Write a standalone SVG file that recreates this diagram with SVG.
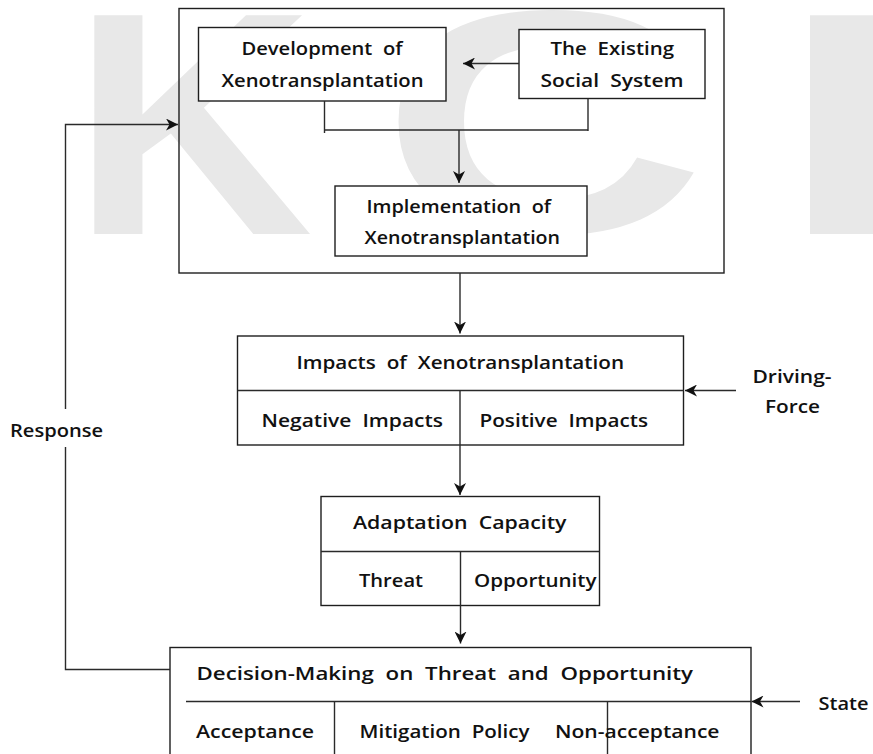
<svg xmlns="http://www.w3.org/2000/svg" width="873" height="754" viewBox="0 0 873 754">
<defs>
<style>
.wm{font-family:"Liberation Sans",Arial,sans-serif;font-weight:bold;font-size:318px;fill:#e8e8e8}
.box{fill:#fff;stroke:#1e1e1e;stroke-width:1.4}
.frame{fill:none;stroke:#1e1e1e;stroke-width:1.4}
.ln{fill:none;stroke:#2a2a2a;stroke-width:1.4}
.lbl{font-family:"Open Sans","Liberation Sans",sans-serif;font-weight:600;font-size:18.5px;word-spacing:5px;fill:#111}
</style>
<marker id="ah" viewBox="0 0 12 12" refX="12" refY="6" markerWidth="12" markerHeight="12" markerUnits="userSpaceOnUse" orient="auto">
<path d="M0,0 L12,6 L0,12 L3.5,6 Z" fill="#111"/>
</marker>
</defs>
<rect width="873" height="754" fill="#fff"/>
<g id="watermark">
<text class="wm" transform="translate(72,234) scale(1.05,1)" x="0" y="0">K</text>
<text class="wm" transform="translate(380,232) scale(1.42,1)" x="0" y="0">C</text>
<text class="wm" transform="translate(776,234) scale(1.6,1)" x="0" y="0">I</text>
</g>
<g id="outer"><rect class="frame" x="179" y="8.5" width="545" height="264.5"/></g>
<g id="development">
<rect class="box" x="198.5" y="27.5" width="247.5" height="73.5"/>
<text class="lbl" x="241.5" y="55" textLength="161" lengthAdjust="spacingAndGlyphs">Development of</text>
<text class="lbl" x="221.5" y="86.5" textLength="202" lengthAdjust="spacingAndGlyphs">Xenotransplantation</text>
</g>
<g id="existing">
<rect class="box" x="519" y="29.5" width="186" height="69"/>
<text class="lbl" x="550.5" y="55" textLength="123.5" lengthAdjust="spacingAndGlyphs">The Existing</text>
<text class="lbl" x="540.5" y="86.5" textLength="143" lengthAdjust="spacingAndGlyphs">Social System</text>
</g>
<g id="implementation">
<rect class="box" x="335" y="186" width="252" height="70"/>
<text class="lbl" x="366.5" y="212.5" textLength="184.5" lengthAdjust="spacingAndGlyphs">Implementation of</text>
<text class="lbl" x="364.5" y="243.5" textLength="195.5" lengthAdjust="spacingAndGlyphs">Xenotransplantation</text>
</g>
<g id="impacts">
<rect class="box" x="237.5" y="336" width="446" height="109"/>
<line class="ln" x1="237.5" y1="390.5" x2="683.5" y2="390.5"/>
<text class="lbl" x="296.5" y="368.5" textLength="327.5" lengthAdjust="spacingAndGlyphs">Impacts of Xenotransplantation</text>
<text class="lbl" x="261.5" y="426.5" textLength="181.5" lengthAdjust="spacingAndGlyphs">Negative Impacts</text>
<text class="lbl" x="479.5" y="426.5" textLength="168.5" lengthAdjust="spacingAndGlyphs">Positive Impacts</text>
</g>
<g id="adaptation">
<rect class="box" x="321" y="496.5" width="278.5" height="109"/>
<line class="ln" x1="321" y1="551.5" x2="599.5" y2="551.5"/>
<text class="lbl" x="353" y="529" textLength="213.5" lengthAdjust="spacingAndGlyphs">Adaptation Capacity</text>
<text class="lbl" x="359" y="587" textLength="64" lengthAdjust="spacingAndGlyphs">Threat</text>
<text class="lbl" x="474" y="587" textLength="122.5" lengthAdjust="spacingAndGlyphs">Opportunity</text>
</g>
<g id="decision">
<rect class="box" x="170" y="647.5" width="581" height="120"/>
<line class="ln" x1="186" y1="701.5" x2="751" y2="701.5"/>
<line class="ln" x1="334.5" y1="701.5" x2="334.5" y2="754"/>
<line class="ln" x1="607.5" y1="701.5" x2="607.5" y2="754"/>
<text class="lbl" x="196.5" y="680" textLength="496.5" lengthAdjust="spacingAndGlyphs">Decision-Making on Threat and Opportunity</text>
<text class="lbl" x="196" y="738" textLength="118" lengthAdjust="spacingAndGlyphs">Acceptance</text>
<text class="lbl" x="359.5" y="738" textLength="170" lengthAdjust="spacingAndGlyphs">Mitigation Policy</text>
<text class="lbl" x="555" y="738" textLength="164.5" lengthAdjust="spacingAndGlyphs">Non-acceptance</text>
</g>
<g id="labels">
<text class="lbl" x="752.5" y="382.5" textLength="79" lengthAdjust="spacingAndGlyphs">Driving-</text>
<text class="lbl" x="765" y="412.5" textLength="55" lengthAdjust="spacingAndGlyphs">Force</text>
<text class="lbl" x="10" y="437" textLength="93" lengthAdjust="spacingAndGlyphs">Response</text>
<text class="lbl" x="818.5" y="710" textLength="50" lengthAdjust="spacingAndGlyphs">State</text>
</g>
<g id="connectors">
<line class="ln" x1="519" y1="63.5" x2="463" y2="63.5" marker-end="url(#ah)"/>
<polyline class="ln" points="324.5,101 324.5,133"/>
<polyline class="ln" points="588,98.5 588,131"/>
<line class="ln" x1="324.5" y1="130" x2="588" y2="130"/>
<line class="ln" x1="459" y1="130" x2="459" y2="183" marker-end="url(#ah)"/>
<line class="ln" x1="460" y1="273" x2="460" y2="333.5" marker-end="url(#ah)"/>
<line class="ln" x1="460" y1="390.5" x2="460" y2="495" marker-end="url(#ah)"/>
<line class="ln" x1="460.5" y1="551.5" x2="460.5" y2="643.5" marker-end="url(#ah)"/>
<line class="ln" x1="736" y1="390.5" x2="685" y2="390.5" marker-end="url(#ah)"/>
<line class="ln" x1="800" y1="701.5" x2="751.5" y2="701.5" marker-end="url(#ah)"/>
<polyline class="ln" points="170,669.5 65.5,669.5 65.5,447"/>
<polyline class="ln" points="65.5,409 65.5,124.5 178,124.5" marker-end="url(#ah)"/>
</g>
</svg>
